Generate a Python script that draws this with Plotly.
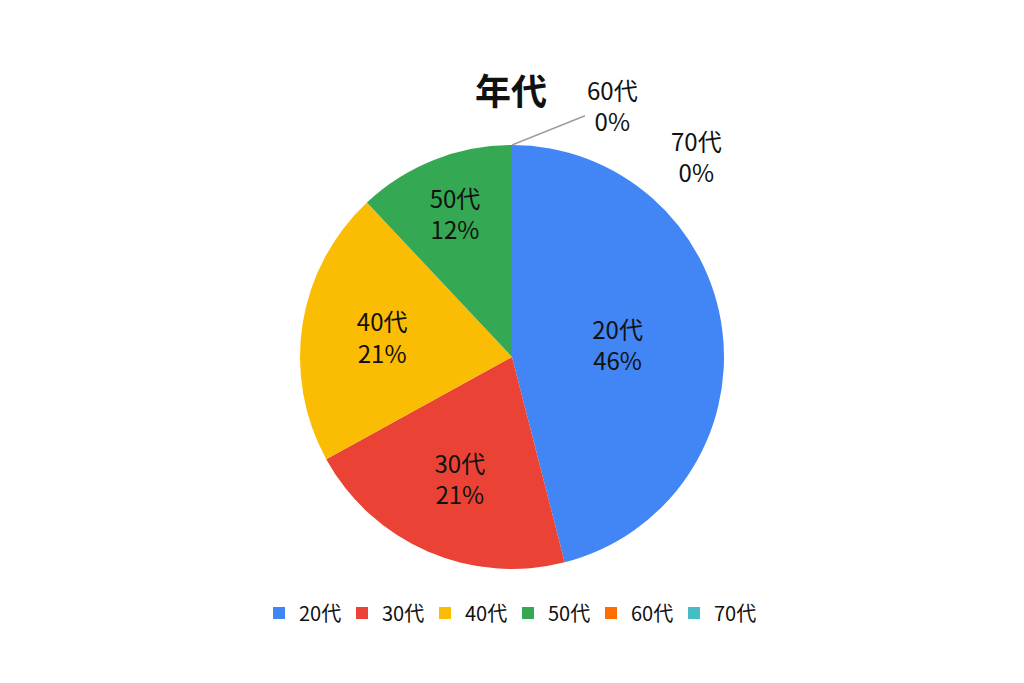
import plotly.graph_objects as go

categories = ["20代", "30代", "40代", "50代", "60代", "70代"]
values = [46, 21, 21, 12, 0, 0]
colors = ["#4285F4", "#EA4335", "#FBBC04", "#34A853", "#FF6D01", "#46BDC6"]

FONT = "Noto Sans CJK JP"
W, H = 1024, 683
DX, DY = 8, 8  # page body offset compensation


def px(x):
    return (x - DX) / W


def py(y):
    return (H - y + DY) / H


texts = [f"{c}<br>{v}%" if v > 0 else "" for c, v in zip(categories, values)]

cx, cy, R = 512, 357, 212

fig = go.Figure(go.Pie(
    labels=categories,
    values=values,
    text=texts,
    textinfo="text",
    textposition="inside",
    insidetextorientation="horizontal",
    sort=False,
    direction="clockwise",
    rotation=0,
    marker=dict(colors=colors, line=dict(width=0)),
    textfont=dict(family=FONT, size=24, color="#111111"),
    domain=dict(x=[px(cx - R), px(cx + R)], y=[py(cy + R), py(cy - R)]),
    showlegend=True,
    hoverinfo="label+percent",
))

zero_labels = [(c, v) for c, v in zip(categories, values) if v == 0]

fig.add_annotation(
    x=px(cx), y=py(cy - R), xref="paper", yref="paper",
    text=f"{zero_labels[0][0]}<br>{zero_labels[0][1]}%",
    showarrow=True, arrowhead=0, arrowwidth=1.5, arrowcolor="#9e9e9e",
    ax=100, ay=-40, font=dict(family=FONT, size=24, color="#111111"),
    align="center",
)
fig.add_annotation(
    x=px(696), y=py(156), xref="paper", yref="paper",
    xanchor="center", yanchor="middle",
    text=f"{zero_labels[1][0]}<br>{zero_labels[1][1]}%",
    showarrow=False, font=dict(family=FONT, size=24, color="#111111"),
    align="center",
)

fig.update_layout(
    width=W, height=H,
    paper_bgcolor="white", plot_bgcolor="white",
    margin=dict(l=0, r=0, t=0, b=0),
    title=dict(text="<b>年代</b>", x=px(511), y=py(92), xanchor="center", yanchor="middle",
               font=dict(family=FONT, size=36, color="#111111")),
    legend=dict(orientation="h", x=px(508), xanchor="center", y=py(613), yanchor="middle",
                font=dict(family=FONT, size=20, color="#111111"),
                entrywidth=38, entrywidthmode="pixels", itemwidth=30,
                traceorder="normal"),
)

fig.write_html("out.html")
